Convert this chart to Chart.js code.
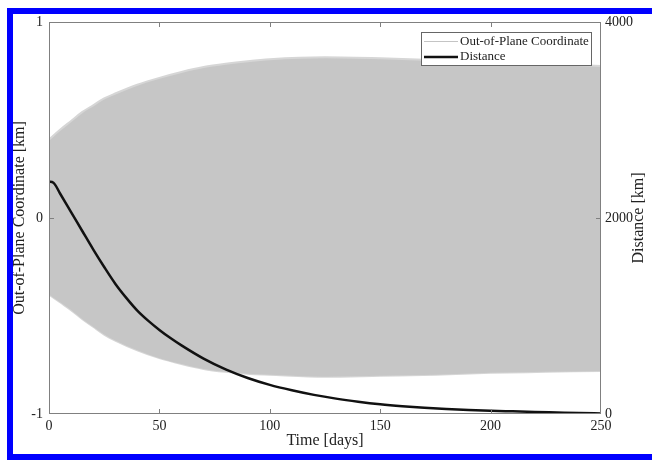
<!DOCTYPE html>
<html>
<head>
<meta charset="utf-8">
<script src="https://cdn.jsdelivr.net/npm/chart.js@4"></script>
<style>
  html, body { margin: 0; padding: 0; background: #fff; }
  #wrap { width: 652px; height: 461px; }
</style>
</head>
<body>
<div id="wrap"><canvas id="chart" width="652" height="461"></canvas></div>
<script>
// envelope of the fast out-of-plane oscillation (km)
const envTime  = [0, 5, 10, 15, 20, 25, 30, 40, 50, 60, 70, 80, 90, 100, 125, 150, 175, 200, 225, 250];
const envUpper = [0.40, 0.45, 0.495, 0.54, 0.575, 0.61, 0.635, 0.68, 0.715, 0.745, 0.77, 0.787, 0.80, 0.81, 0.82, 0.815, 0.805, 0.795, 0.785, 0.775];
const envLower = [-0.39, -0.43, -0.47, -0.515, -0.555, -0.595, -0.625, -0.675, -0.715, -0.745, -0.77, -0.785, -0.795, -0.80, -0.81, -0.805, -0.80, -0.79, -0.785, -0.78];

// distance (km)
const distTime = [0, 2, 5, 10, 15, 20, 25, 30, 35, 40, 45, 50, 55, 60, 70, 80, 90, 100, 110, 120, 130, 140, 150, 160, 170, 180, 190, 200, 210, 220, 230, 240, 250];
const distance = [2370, 2360, 2250, 2060, 1870, 1680, 1500, 1330, 1185, 1055, 950, 858, 775, 700, 565, 455, 367, 297, 242, 195, 157, 126, 100, 80, 64, 52, 42, 34, 27, 20, 15, 10, 6];

// tick labels
const xTicks = [0, 50, 100, 150, 200, 250];
const yTicks = [-1, 0, 1];
const y2Ticks = [0, 2000, 4000];

const serif = 'Liberation Serif';
Chart.defaults.font.family = serif;
Chart.defaults.color = '#222';

const zip = (xs, ys) => xs.map((x, i) => ({ x, y: ys[i] }));

// matlab style box + inward ticks, blue frame, legend, right title
const decor = {
  id: 'decor',
  afterDatasetsDraw(chart) {
    const { ctx, chartArea: a, scales } = chart;
    ctx.save();
    ctx.strokeStyle = '#808080';
    ctx.lineWidth = 1;
    ctx.strokeRect(a.left + 0.5, a.top + 0.5, a.width - 1, a.height - 1);
    ctx.beginPath();
    const len = 5;
    xTicks.slice(1, -1).forEach(v => {
      const px = Math.round(scales.x.getPixelForValue(v)) + 0.5;
      ctx.moveTo(px, a.bottom); ctx.lineTo(px, a.bottom - len);
      ctx.moveTo(px, a.top); ctx.lineTo(px, a.top + len);
    });
    yTicks.slice(1, -1).forEach(v => {
      const py = Math.round(scales.y.getPixelForValue(v)) + 0.5;
      ctx.moveTo(a.left, py); ctx.lineTo(a.left + len, py);
    });
    y2Ticks.slice(1, -1).forEach(v => {
      const py = Math.round(scales.y2.getPixelForValue(v)) + 0.5;
      ctx.moveTo(a.right, py); ctx.lineTo(a.right - len, py);
    });
    ctx.stroke();
    ctx.restore();
  },
  afterDraw(chart) {
    const { ctx, chartArea: a } = chart;
    ctx.save();
    // blue frame, the right side is cut off in the figure
    ctx.fillStyle = '#0000ff';
    ctx.fillRect(7, 8, 652 - 7, 6);
    ctx.fillRect(7, 8, 6, 453 - 8 + 6);
    ctx.fillRect(7, 454, 652 - 7, 6);

    // right axis title, reading bottom to top
    ctx.fillStyle = '#222';
    ctx.font = '16px ' + serif;
    ctx.textAlign = 'center';
    ctx.textBaseline = 'alphabetic';
    ctx.translate(643, (a.top + a.bottom) / 2);
    ctx.rotate(-Math.PI / 2);
    ctx.fillText('Distance [km]', 0, 0);
    ctx.restore();

    // legend box
    ctx.save();
    const bx = 421, by = 32, bw = 170, bh = 33;
    ctx.fillStyle = '#fff';
    ctx.fillRect(bx, by, bw, bh);
    ctx.strokeStyle = '#666';
    ctx.lineWidth = 1;
    ctx.strokeRect(bx + 0.5, by + 0.5, bw, bh);
    const items = chart.data.datasets.filter(d => d.label);
    items.forEach((d, i) => {
      const ly = by + 9.5 + i * 15.5;
      ctx.beginPath();
      ctx.strokeStyle = d.legendColor || d.borderColor;
      ctx.lineWidth = d.legendWidth || d.borderWidth;
      ctx.moveTo(bx + 3, ly); ctx.lineTo(bx + 37, ly);
      ctx.stroke();
      ctx.fillStyle = '#222';
      ctx.font = '13px ' + serif;
      ctx.textAlign = 'left';
      ctx.textBaseline = 'middle';
      ctx.fillText(d.label, bx + 39, ly);
    });
    ctx.restore();
  }
};

const plainTicks = { font: { size: 14 }, callback: v => String(v) };

new Chart(document.getElementById('chart'), {
  type: 'line',
  data: {
    datasets: [
      {
        label: 'Out-of-Plane Coordinate',
        data: zip(envTime, envUpper),
        yAxisID: 'y',
        order: 2,
        borderColor: '#d6d6d6',
        legendColor: '#c4c4c4',
        legendWidth: 1,
        borderWidth: 2,
        backgroundColor: '#c6c6c6',
        fill: '+1',
        pointRadius: 0,
        cubicInterpolationMode: 'monotone'
      },
      {
        label: '',
        data: zip(envTime, envLower),
        yAxisID: 'y',
        order: 2,
        borderColor: '#d6d6d6',
        borderWidth: 2,
        fill: false,
        pointRadius: 0,
        cubicInterpolationMode: 'monotone'
      },
      {
        label: 'Distance',
        data: zip(distTime, distance),
        yAxisID: 'y2',
        order: 0,
        borderColor: '#111',
        borderWidth: 2.5,
        fill: false,
        pointRadius: 0,
        cubicInterpolationMode: 'monotone'
      }
    ]
  },
  options: {
    responsive: false,
    animation: false,
    layout: { padding: { top: 22, left: 0, right: 0, bottom: 0 } },
    plugins: { legend: { display: false }, tooltip: { enabled: false } },
    scales: {
      x: {
        type: 'linear',
        min: 0, max: 250,
        afterFit: s => { s.height = 47; },
        afterBuildTicks: s => { s.ticks = xTicks.map(v => ({ value: v })); },
        grid: { display: false, drawTicks: false },
        border: { display: false },
        ticks: { ...plainTicks, padding: 4, maxRotation: 0 },
        title: { display: true, text: 'Time [days]', font: { size: 16 }, padding: { top: 0, bottom: 11 } }
      },
      y: {
        position: 'left',
        min: -1, max: 1,
        afterFit: s => { s.width = 49; },
        afterBuildTicks: s => { s.ticks = yTicks.map(v => ({ value: v })); },
        grid: { display: false, drawTicks: false },
        border: { display: false },
        ticks: { ...plainTicks, padding: 6 },
        title: { display: true, text: 'Out-of-Plane Coordinate [km]', font: { size: 16 }, padding: { top: 10, bottom: 0 } }
      },
      y2: {
        position: 'right',
        min: 0, max: 4000,
        afterFit: s => { s.width = 51; },
        afterBuildTicks: s => { s.ticks = y2Ticks.map(v => ({ value: v })); },
        grid: { display: false, drawTicks: false },
        border: { display: false },
        ticks: { ...plainTicks, padding: 4 }
      }
    }
  },
  plugins: [decor]
});
</script>
</body>
</html>
